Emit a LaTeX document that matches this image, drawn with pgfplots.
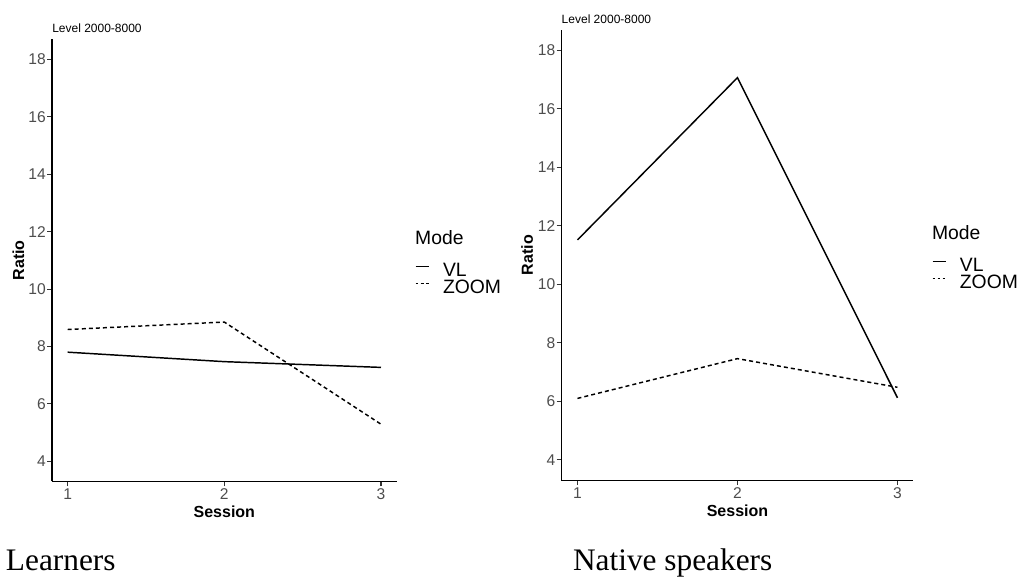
\documentclass[border=0pt]{standalone}
\usepackage{pgfplots}
\pgfplotsset{compat=1.18}
\usepackage{fontspec}
\setmainfont{Liberation Sans}
\newfontfamily\timesfont{Liberation Serif}
\definecolor{tickgray}{HTML}{4D4D4D}
\definecolor{axgray}{HTML}{333333}

\pgfplotsset{
  myaxis/.style={
    scale only axis,
    clip=false,
    xmin=0.9, xmax=3.1, ymin=3.3, ymax=18.7,
    xtick={1,2,3}, ytick={4,6,8,10,12,14,16,18},
    axis lines*=left,
    axis line style={black, line width=0.9pt},
    every tick/.style={axgray, line width=0.8pt},
    tick align=outside,
    major tick length=3.7pt,
    /pgf/number format/assume math mode=true,
    ticklabel style={font=\fontsize{11.7}{14}\selectfont, text=tickgray},
    xticklabel style={inner sep=0pt, anchor=north, yshift=-1.8pt},
    yticklabel style={inner sep=0pt, anchor=east, xshift=-0.8pt},
    xlabel={Session}, ylabel={Ratio},
    label style={font=\bfseries\fontsize{12}{14}\selectfont},
    xlabel style={at={(axis description cs:0.5,-0.081)}, anchor=base, inner sep=0pt},
    ylabel style={at={(axis description cs:-0.0977,0.5)}, anchor=center, rotate=0, inner sep=0pt},
    title={Level 2000-8000},
    every axis title shift=0pt,
    title style={at={(axis description cs:0,1)}, anchor=base west, yshift=5pt, inner sep=0pt, font=\fontsize{9}{11}\selectfont},
    legend cell align=left,
    legend style={anchor=north west, draw=none, fill=none, inner sep=0pt, outer sep=0pt,
      column sep=10.25pt, row sep=0pt, font=\fontsize{14.5}{16}\selectfont,
      nodes={inner sep=0pt, text height=10pt, text depth=3pt}},
    legend image code/.code={\draw[#1] (0pt,4pt) -- (9.75pt,4pt);},
  },
  vl/.style={black, line width=1.1pt, mark=none},
  zoom/.style={black, line width=1.1pt, mark=none, dash pattern=on 3pt off 2.3pt,
    legend image post style={dash pattern=on 2.1pt off 1.7pt, line width=0.9pt}},
}

\begin{document}
\begin{tikzpicture}
\useasboundingbox (0,0) rectangle (766.5pt,432pt);

\begin{axis}[myaxis, at={(39pt,71pt)}, anchor=south west,
  width=258.5pt, height=331.5pt,
  legend style={at={(axis description cs:1.053,0.4935)}}]
\addplot[vl] coordinates {(1,7.80) (2,7.47) (3,7.27)};
\addlegendentry{VL}
\addplot[zoom] coordinates {(1,8.59) (2,8.85) (3,5.29)};
\addlegendentry{ZOOM}
\node[anchor=base west, inner sep=0pt, font=\fontsize{14.5}{16}\selectfont] at (axis description cs:1.053,0.536) {Mode};
\end{axis}

\begin{axis}[myaxis, at={(421.1pt,71.8pt)}, anchor=south west,
  width=264pt, height=337.7pt,
  legend style={at={(axis description cs:1.052,0.4935)}}]
\addplot[vl] coordinates {(1,11.52) (2,17.07) (3,6.12)};
\addlegendentry{VL}
\addplot[zoom] coordinates {(1,6.10) (2,7.46) (3,6.48)};
\addlegendentry{ZOOM}
\node[anchor=base west, inner sep=0pt, font=\fontsize{14.5}{16}\selectfont] at (axis description cs:1.052,0.535) {Mode};
\end{axis}

\node[anchor=base west, inner sep=0pt] at (4.3pt,4pt) {\timesfont\fontsize{23.5}{28}\selectfont Learners};
\node[anchor=base west, inner sep=0pt] at (429.6pt,4pt) {\timesfont\fontsize{23.5}{28}\selectfont Native speakers};
\end{tikzpicture}
\end{document}
